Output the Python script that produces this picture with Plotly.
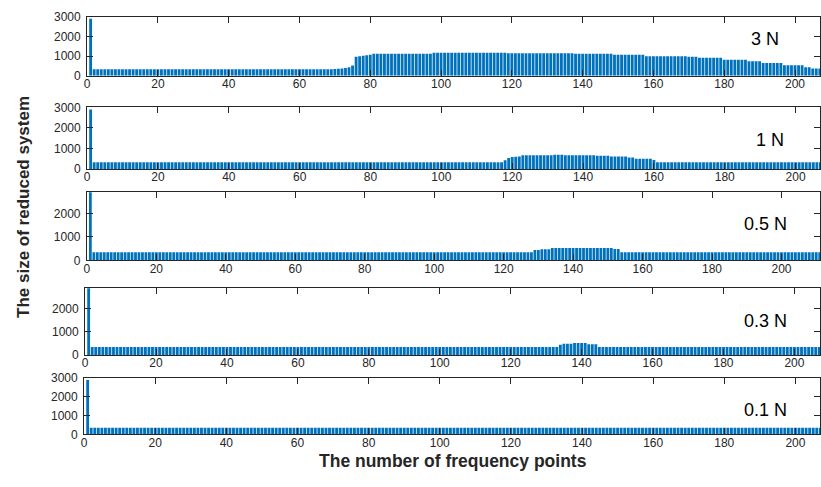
import plotly.graph_objects as go

# ---- data ----
labels = ["3 N", "1 N", "0.5 N", "0.3 N", "0.1 N"]
x_ticks = [0, 20, 40, 60, 80, 100, 120, 140, 160, 180, 200]

vals_3N = ([2900] + [330] * 68 +
           [340, 350, 370, 390, 430, 520, 960, 990, 1010, 1040, 1070] +
           [1120] * 17 + [1170] * 21 + [1140] * 19 + [1110] * 11 + [1060] * 9 +
           [990] * 12 + [960] * 3 + [910] * 7 + [810] * 7 + [730] * 4 +
           [640] * 6 + [530] * 6 + [430] * 2 + [360] * 3)
vals_1N = ([2900] + [330] * 116 + [420, 530, 580, 590, 600] + [660] * 9 +
           [690] * 3 + [660] * 9 + [640] * 4 + [600] * 5 + [560] * 2 +
           [500] * 5 + [430] + [330] * 47)
vals_05N = ([2900] + [350] * 127 + [445] * 2 + [475] * 3 + [530] * 18 +
            [490] * 2 + [350] * 58)
vals_03N = ([2900] + [350] * 132 + [450] + [490] * 3 + [520] * 4 +
            [465] * 3 + [350] * 63)
vals_01N = [2900] + [350] * 206

series = [vals_3N, vals_1N, vals_05N, vals_03N, vals_01N]

# ---- layout geometry (pixels) ----
W, H = 821, 487
panel_top = [10, 103.3, 190, 289, 382]
panel_bot = [70.7, 166.7, 261, 358.3, 440]
panel_left = [84.5, 84.5, 84.3, 82.5, 81.5]
px_per_unit = [3.557, 3.56, 3.49, 3.564, 3.574]
y_max = [3000, 3000, 2930, 2920, 3000]
y_ticks = [[0, 1000, 2000, 3000], [0, 1000, 2000, 3000], [0, 1000, 2000],
           [0, 1000, 2000], [0, 1000, 2000, 3000]]

FONT = "Liberation Sans, Arial, Helvetica, sans-serif"
AX = "#262626"
BLUE = "#0072BD"

fig = go.Figure()
layout = dict(width=W, height=H, margin=dict(l=0, r=0, t=0, b=0),
              paper_bgcolor="white", plot_bgcolor="white", showlegend=False,
              bargap=0.2, font=dict(family=FONT, size=11, color=AX))
annotations = []

for i, vals in enumerate(series):
    n = i + 1
    xs = list(range(1, len(vals) + 1))
    fig.add_trace(go.Bar(x=xs, y=vals, marker=dict(color=BLUE, line=dict(width=0)),
                         xaxis=f"x{n}" if n > 1 else "x", yaxis=f"y{n}" if n > 1 else "y"))
    xmax = (W - panel_left[i]) / px_per_unit[i]
    xa = dict(domain=[panel_left[i] / W, 1], range=[0, xmax], anchor=f"y{n}" if n > 1 else "y",
              tickvals=x_ticks, ticks="inside", ticklen=6, tickcolor=AX, tickwidth=1,
              showline=True, linecolor=AX, linewidth=1, mirror="ticks", showgrid=False,
              zeroline=False, ticklabelstandoff=-3,
              tickfont=dict(size=12, color=AX, family=FONT))
    ya = dict(domain=[1 - panel_bot[i] / H, 1 - panel_top[i] / H], range=[0, y_max[i]],
              anchor=f"x{n}" if n > 1 else "x",
              tickvals=y_ticks[i], ticks="inside", ticklen=6, tickcolor=AX, tickwidth=1,
              showline=True, linecolor=AX, linewidth=1, mirror="ticks", showgrid=False,
              zeroline=False, ticklabelstandoff=3,
              tickfont=dict(size=12, color=AX, family=FONT))
    layout["xaxis" if n == 1 else f"xaxis{n}"] = xa
    layout["yaxis" if n == 1 else f"yaxis{n}"] = ya

label_pos = [(766, 33), (771, 137), (766, 223), (766, 323), (766, 415)]
for (lx, ly), txt in zip(label_pos, labels):
    annotations.append(dict(x=lx / W, y=1 - ly / H, xref="paper", yref="paper", text=txt,
                            showarrow=False, xanchor="center", yanchor="middle",
                            font=dict(size=18, color="black", family=FONT)))

annotations.append(dict(x=452 / W, y=1 - 467 / H, xref="paper", yref="paper",
                        text="<b>The number of frequency points</b>", showarrow=False,
                        xanchor="center", yanchor="middle",
                        font=dict(size=17.5, color=AX, family=FONT)))
annotations.append(dict(x=20 / W, y=1 - 206 / H, xref="paper", yref="paper",
                        text="<b>The size of reduced system</b>", showarrow=False,
                        textangle=-90, xanchor="center", yanchor="middle",
                        font=dict(size=17, color=AX, family=FONT)))
layout["annotations"] = annotations
fig.update_layout(**layout)
fig.write_html("out.html")
